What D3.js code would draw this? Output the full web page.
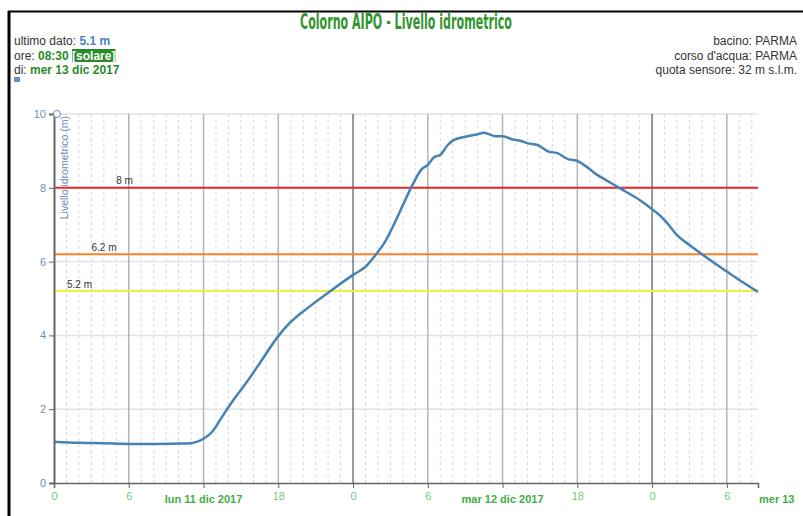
<!DOCTYPE html>
<html><head><meta charset="utf-8">
<script src="https://cdn.jsdelivr.net/npm/d3@7"></script>
<style>
body{margin:0;background:#fff;}
svg{display:block;font-family:"Liberation Sans",Arial,sans-serif;}
</style></head>
<body><svg id="c" width="803" height="516"></svg>
<script>
// ---- data ----
const hours = [0,2,4,6,8,10,11,11.5,12,12.7,13.5,14.3,15.5,16.5,18,18.9,20.5,22.1,24,25,25.9,26.5,27.2,28,28.7,29.5,30,30.5,31,31.6,32.1,33.1,34,34.5,35.4,36,36.9,37.5,38,38.8,39.7,40.4,41.3,41.9,42.7,43.5,44.3,45.4,47,48,48.6,49.2,50,51,52,54,55,56.5];
const levels = [1.12,1.09,1.08,1.06,1.06,1.07,1.08,1.12,1.2,1.39,1.8,2.2,2.75,3.24,3.98,4.33,4.78,5.18,5.64,5.86,6.22,6.5,6.95,7.53,8.03,8.5,8.62,8.83,8.89,9.16,9.3,9.39,9.45,9.49,9.4,9.4,9.3,9.27,9.21,9.16,8.98,8.94,8.77,8.74,8.58,8.37,8.21,7.99,7.67,7.42,7.26,7.05,6.72,6.45,6.2,5.73,5.5,5.18];
const thresholds = [8, 6.2, 5.2];
const thresholdLabels = ["8 m","6.2 m","5.2 m"];
const thresholdColors = ["#e8262b","#ff7f27","#f0f03c"];
const yTicks = [0,2,4,6,8,10];
const xTicks = [0,6,12,18,24,30,36,42,48,54];
const dayLabels = ["lun 11 dic 2017","mar 12 dic 2017","mer 13"];
const dayLabelHours = [12,36,null];

const svg = d3.select("#c");
const x = d3.scaleLinear().domain([0,56.5]).range([54,758]);
const y = d3.scaleLinear().domain([0,10]).range([483,114]);

// frame borders
svg.append("line").attr("x1",9).attr("x2",9).attr("y1",11).attr("y2",516).attr("stroke","#000").attr("stroke-width",3);
svg.append("line").attr("x1",8).attr("x2",803).attr("y1",11.5).attr("y2",11.5).attr("stroke","#000").attr("stroke-width",2);

// title
svg.append("text").attr("x",406).attr("y",29).attr("text-anchor","middle")
  .attr("font-family","'Liberation Sans Narrow','DejaVu Sans Condensed',sans-serif").attr("font-size",21)
  .attr("font-weight","bold")
  .attr("textLength",212).attr("lengthAdjust","spacingAndGlyphs")
  .attr("fill","#33952f").text("Colorno AIPO - Livello idrometrico");

// info left
const info = svg.append("g").attr("font-size",12).attr("fill","#333");
const t1 = info.append("text").attr("x",14).attr("y",45);
t1.append("tspan").text("ultimo dato: ");
t1.append("tspan").attr("font-weight","bold").attr("fill","#4a7fc0").text("5.1 m");
const t2 = info.append("text").attr("x",14).attr("y",59.5);
t2.append("tspan").text("ore: ");
t2.append("tspan").attr("font-weight","bold").attr("fill","#2a8a2a").text("08:30 ");
const sol = t2.append("tspan").attr("font-weight","bold").attr("fill","#fff").text("[solare]");
const t3 = info.append("text").attr("x",14).attr("y",74);
t3.append("tspan").text("di: ");
t3.append("tspan").attr("font-weight","bold").attr("fill","#2a8a2a").text("mer 13 dic 2017");
// background for [solare]
(function(){
  const n = sol.node();
  const start = t2.node().getStartPositionOfChar(t2.node().getNumberOfChars()-8).x;
  const len = n.getComputedTextLength();
  info.insert("rect","text").attr("x",start).attr("y",49).attr("width",len).attr("height",13).attr("fill","#2a8a2a");
})();
// tiny icon
svg.append("rect").attr("x",14).attr("y",77).attr("width",6).attr("height",5).attr("fill","#6a8fc8");

// info right
const infoR = svg.append("g").attr("font-size",12).attr("fill","#333").attr("text-anchor","end");
["bacino: PARMA","corso d'acqua: PARMA","quota sensore: 32 m s.l.m."].forEach((s,i)=>{
  infoR.append("text").attr("x",797).attr("y",45+i*14.5).text(s);
});

// grid: hourly dashed
const g = svg.append("g");
g.selectAll(".hm").data(d3.range(1,57).filter(h=>h%6!==0)).join("line")
  .attr("x1",d=>x(d)).attr("x2",d=>x(d)).attr("y1",y(10)).attr("y2",y(0))
  .attr("stroke","#d9d9d9").attr("stroke-dasharray","3,3");
// horizontal grid
g.selectAll(".hg").data(yTicks.filter(d=>d>0)).join("line")
  .attr("x1",x(0)).attr("x2",x(56.5)).attr("y1",d=>y(d)).attr("y2",d=>y(d))
  .attr("stroke","#e2e2e2").attr("stroke-width",1.5);
// 6h verticals
g.selectAll(".vg").data(xTicks.filter(d=>d>0)).join("line")
  .attr("x1",d=>x(d)).attr("x2",d=>x(d)).attr("y1",y(10)).attr("y2",y(0))
  .attr("stroke",d=>d%24===0?"#777":"#b5b5b5").attr("stroke-width",1.5);

// thresholds
thresholds.forEach((v,i)=>{
  svg.append("line").attr("x1",x(0)).attr("x2",x(56.5)).attr("y1",y(v)).attr("y2",y(v))
    .attr("stroke",thresholdColors[i]).attr("stroke-width",2);
});
const labX = [124.5,104,79.5];
thresholds.forEach((v,i)=>{
  svg.append("text").attr("x",labX[i]).attr("y",y(v)-3.5).attr("text-anchor","middle")
    .attr("font-size",10).attr("fill","#333").text(thresholdLabels[i]);
});

// line
svg.append("path").datum(hours.map((h,i)=>[h,levels[i]]))
  .attr("d",d3.line().x(d=>x(d[0])).y(d=>y(d[1])).curve(d3.curveMonotoneX))
  .attr("fill","none").attr("stroke","#4682b4").attr("stroke-width",2.5).attr("stroke-linejoin","round");

// y axis
const ya = svg.append("g").attr("transform",`translate(${x(0)},0)`)
  .call(d3.axisLeft(y).tickValues(yTicks).tickSize(5).tickPadding(3));
ya.select(".domain").attr("stroke","#666").attr("stroke-width",2);
ya.selectAll(".tick line").attr("stroke","#666");
ya.selectAll("text").attr("fill","#6b8cc0").attr("font-size",11).attr("font-family","'Liberation Sans',Arial,sans-serif");
svg.append("circle").attr("cx",57).attr("cy",114).attr("r",3.5).attr("fill","#fff").attr("stroke","#6b8cc0");
svg.append("text").attr("transform","translate(68,116) rotate(-90)").attr("text-anchor","end")
  .attr("font-size",10.5).attr("fill","#6b8cc0").text("Livello idrometrico (m)");

// x axis (noon ticks hidden under the day labels)
const xa = svg.append("g").attr("transform",`translate(0,${y(0)})`)
  .call(d3.axisBottom(x).tickValues(xTicks.concat([56.5])).tickSize(5).tickPadding(4)
    .tickFormat(d=>(d===56.5||d===12||d===36)?"":String(d%24)));
xa.select(".domain").attr("stroke","#666").attr("stroke-width",1.5);
xa.selectAll(".tick line").attr("stroke","#666");
xa.selectAll("text").attr("fill","#80c480").attr("font-size",11).attr("font-family","'Liberation Sans',Arial,sans-serif");

// day labels
dayLabels.forEach((s,i)=>{
  const h = dayLabelHours[i];
  svg.append("text").attr("x",h===null?759:x(h)).attr("y",503)
    .attr("text-anchor",h===null?"start":"middle")
    .attr("font-size",11).attr("font-weight","bold").attr("fill","#3fae3f").text(s);
});
</script></body></html>
